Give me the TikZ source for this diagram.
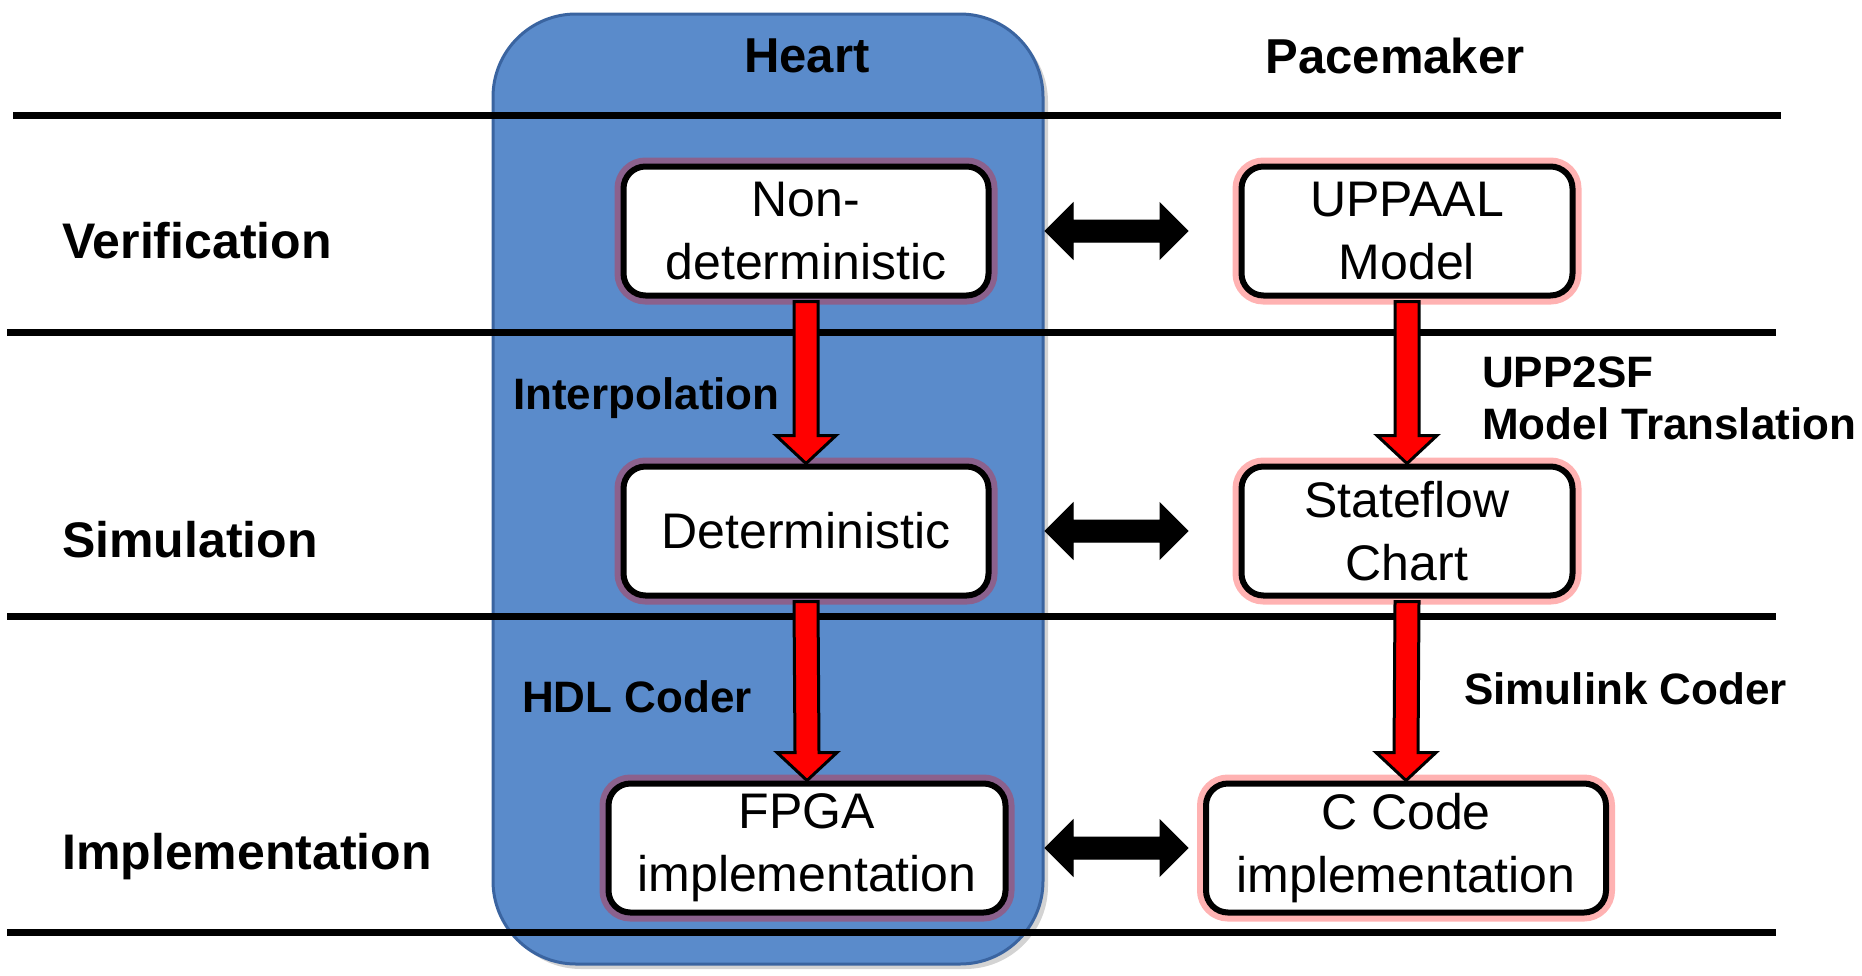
\documentclass[tikz,border=0pt]{standalone}
\usepackage{fontspec}
\setmainfont{Liberation Sans}
\usetikzlibrary{calc,shadows}
\definecolor{heartblue}{HTML}{5A8BCB}
\definecolor{heartedge}{HTML}{3A64A0}
\begin{document}
\begin{tikzpicture}[x=1pt,y=-1pt,
  modelbox/.style={draw=black, line width=6pt, fill=white, rounded corners=22pt,
    minimum width=#1, minimum height=129pt, align=center, inner sep=0pt,
    font=\fontsize{50}{63}\selectfont,
    preaction={draw=red, line width=18pt, opacity=0.3}},
  rowlabel/.style={font=\bfseries\fontsize{50}{60}\selectfont, anchor=west, inner sep=0pt},
  steplabel/.style={font=\bfseries\fontsize{44}{52}\selectfont, anchor=west, inner sep=0pt, align=left},
  header/.style={font=\bfseries\fontsize{49}{58}\selectfont, inner sep=0pt},
  sepline/.style={line width=7pt, black},
  redarr/.style={fill=red, draw=black, line width=3pt, line join=miter},
  blkarr/.style={draw=black, line width=1pt, fill=black, line join=miter},
  heartbg/.style={fill=heartblue, draw=heartedge, line width=3pt, rounded corners=83pt,
    drop shadow={shadow xshift=5pt, shadow yshift=-5pt, opacity=0.35}}
]
\useasboundingbox (0,0) rectangle (1862,975);

% heart column background
\path[heartbg] (493,14) rectangle (1043,964);

% headers
\node[header] (hheart) at (807,56) {Heart};
\node[header] (hpace) at (1395,56) {Pacemaker};

% separator lines
\draw[sepline] (13,115) -- (1781,115);
\draw[sepline] (7,332) -- (1776,332);
\draw[sepline] (7,616) -- (1776,616);
\draw[sepline] (7,932) -- (1776,932);

% row labels
\node[rowlabel] (lver) at (62,241) {Verification};
\node[rowlabel] (lsim) at (62,540) {Simulation};
\node[rowlabel] (limp) at (62,857) {Implementation};

% model boxes
\node[modelbox=365pt] (nd) at (806,231) {Non-\\deterministic};
\node[modelbox=331pt] (up) at (1407,231) {UPPAAL\\Model};
\node[modelbox=365pt] (det) at (806,531) {Deterministic};
\node[modelbox=331pt] (sf) at (1407,531) {Stateflow\\Chart};
\node[modelbox=397pt] (fpga) at (807,848) {FPGA\\implementation};
\node[modelbox=400pt] (cc) at (1406,848) {C Code\\implementation};

% step labels
\node[steplabel] (tint) at (513,398) {Interpolation};
\node[steplabel] (thdl) at (522,697) {HDL Coder};
\node[steplabel] (tupp) at (1482,398) {UPP2SF\\Model Translation};
\node[steplabel] (tsim) at (1464,689) {Simulink Coder};

% red transformation arrows
\draw[redarr] ($(nd.south)+(-12,3)$) -- ($(det.north)+(-12,-28)$) -- ($(det.north)+(-30,-28)$) -- (det.north)
  -- ($(det.north)+(30,-28)$) -- ($(det.north)+(12,-28)$) -- ($(nd.south)+(12,3)$) -- cycle;
\draw[redarr] ($(det.south)+(-12,3)$) -- ($(fpga.north)+(-12,-28)$) -- ($(fpga.north)+(-30,-28)$) -- (fpga.north)
  -- ($(fpga.north)+(30,-28)$) -- ($(fpga.north)+(12,-28)$) -- ($(det.south)+(12,3)$) -- cycle;
\draw[redarr] ($(up.south)+(-12,3)$) -- ($(sf.north)+(-12,-28)$) -- ($(sf.north)+(-30,-28)$) -- (sf.north)
  -- ($(sf.north)+(30,-28)$) -- ($(sf.north)+(12,-28)$) -- ($(up.south)+(12,3)$) -- cycle;
\draw[redarr] ($(sf.south)+(-12,3)$) -- ($(cc.north)+(-12,-28)$) -- ($(cc.north)+(-30,-28)$) -- (cc.north)
  -- ($(cc.north)+(30,-28)$) -- ($(cc.north)+(12,-28)$) -- ($(sf.south)+(12,3)$) -- cycle;

% black correspondence arrows
\coordinate (la) at (1045,0);
\coordinate (ra) at (1188,0);
\path (nd.center -| la) coordinate (a1) (up.center -| ra) coordinate (b1);
\path (det.center -| la) coordinate (a2) (sf.center -| ra) coordinate (b2);
\path (fpga.center -| la) coordinate (a3) (cc.center -| ra) coordinate (b3);
\foreach \i in {1,2,3}{
  \draw[blkarr] (a\i) -- ++(28,-28) -- ++(0,17) -- ($(b\i)+(-28,-11)$) -- ++(0,-17) -- (b\i)
    -- ++(-28,28) -- ++(0,-17) -- ($(a\i)+(28,11)$) -- ++(0,17) -- cycle;
}
\end{tikzpicture}
\end{document}
